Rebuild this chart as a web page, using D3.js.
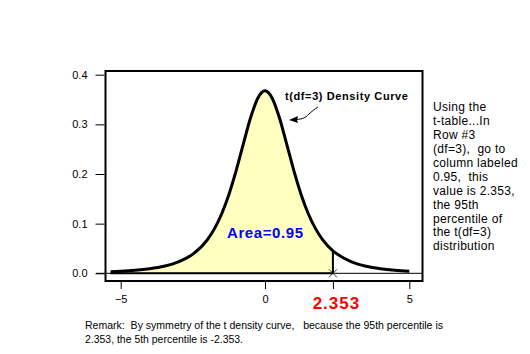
<!DOCTYPE html>
<html>
<head>
<meta charset="utf-8">
<script src="https://cdn.jsdelivr.net/npm/d3@7"></script>
<style>
  body { margin: 0; background: #fff; }
  text { font-family: "Liberation Sans", Arial, sans-serif; white-space: pre; }
  .axis path { display: none; }
  .axis line { stroke: #000; }
  .axis text { font-size: 11px; }
</style>
</head>
<body>
<svg id="chart"></svg>
<script>
// t values and t(df=3) density
const tValues = [-5.35, -5, -4.5, -4, -3.5, -3, -2.5, -2, -1.75, -1.5, -1.25, -1, -0.75, -0.5, -0.25,
  0, 0.25, 0.5, 0.75, 1, 1.25, 1.5, 1.75, 2, 2.353, 2.5, 3, 3.5, 4, 4.5, 5];
const densityValues = [0.0033, 0.0042, 0.0061, 0.0092, 0.0142, 0.0230, 0.0387, 0.0675, 0.0900, 0.1200, 0.1589, 0.2067, 0.2606, 0.3132, 0.3527,
  0.3676, 0.3527, 0.3132, 0.2606, 0.2067, 0.1589, 0.1200, 0.0900, 0.0675, 0.0454, 0.0387, 0.0230, 0.0142, 0.0092, 0.0061, 0.0042];
const xTicks = [-5, 0, 5];
const yTicks = [0, 0.1, 0.2, 0.3, 0.4];
const percentile = 2.353;
const noteLines = ["Using the", "t-table...In", "Row #3", "(df=3),  go to", "column labeled",
  "0.95,  this", "value is 2.353,", "the 95th", "percentile of", "the t(df=3)", "distribution"];
const remarkLines = ["Remark:  By symmetry of the t density curve,   because the 95th percentile is",
  "2.353, the 5th percentile is -2.353."];
const remarkWidths = [358, 158];

const data = tValues.map((t, i) => ({t: t, d: densityValues[i]}));

const svg = d3.select("#chart").attr("width", 530).attr("height", 354);

const box = {left: 105.5, top: 71, right: 422.5, bottom: 281};

const x = d3.scaleLinear().domain([-5, 5]).range([120.7, 409.3]);
const y = d3.scaleLinear().domain([0, 0.4]).range([273.3, 74.7]);

// shaded area up to the 95th percentile
const shaded = data.filter(p => p.t <= percentile);
svg.append("path")
  .datum(shaded)
  .attr("fill", "#ffffc0")
  .attr("d", d3.area().x(p => x(p.t)).y0(y(0)).y1(p => y(p.d)).curve(d3.curveMonotoneX));

// baseline at density 0
svg.append("line")
  .attr("x1", 96).attr("x2", box.right)
  .attr("y1", y(0)).attr("y2", y(0))
  .attr("stroke", "#000").attr("stroke-width", 1);
svg.append("line")
  .attr("x1", x(tValues[0])).attr("x2", x(percentile))
  .attr("y1", y(0)).attr("y2", y(0))
  .attr("stroke", "#000").attr("stroke-width", 2);

// vertical cut at 2.353
svg.append("line")
  .attr("x1", x(percentile)).attr("x2", x(percentile))
  .attr("y1", y(0)).attr("y2", y(densityValues[tValues.indexOf(percentile)]))
  .attr("stroke", "#000").attr("stroke-width", 2);

// small cross marker
const cx = x(percentile), cy = y(0);
svg.append("path")
  .attr("d", `M${cx-4},${cy-4}L${cx+4},${cy+4}M${cx-4},${cy+4}L${cx+4},${cy-4}`)
  .attr("stroke", "#000").attr("stroke-width", 0.8);

// density curve
svg.append("path")
  .datum(data)
  .attr("fill", "none")
  .attr("stroke", "#000")
  .attr("stroke-width", 3)
  .attr("d", d3.line().x(p => x(p.t)).y(p => y(p.d)).curve(d3.curveMonotoneX));

// frame
svg.append("rect")
  .attr("x", box.left).attr("y", box.top)
  .attr("width", box.right - box.left).attr("height", box.bottom - box.top)
  .attr("fill", "none").attr("stroke", "#000").attr("stroke-width", 2);

// axes
svg.append("g")
  .attr("class", "axis")
  .attr("transform", `translate(${box.left - 1},0)`)
  .call(d3.axisLeft(y).tickValues(yTicks).tickFormat(d3.format(".1f")).tickSize(9).tickPadding(8))
  .selectAll("text").style("fill", "#000");

const xAxisG = svg.append("g")
  .attr("class", "axis")
  .attr("transform", `translate(0,${box.bottom + 1})`)
  .call(d3.axisBottom(x).tickValues(xTicks.concat([percentile])).tickSize(7).tickPadding(6)
    .tickFormat(d => d === percentile ? "2.353" : d3.format("d")(d)));

xAxisG.selectAll(".tick text").style("fill", "#000");
xAxisG.selectAll(".tick")
  .filter(d => d === percentile)
  .select("text")
  .style("fill", "#ff0000")
  .attr("dx", 3)
  .attr("y", 15)
  .style("font-size", "17px")
  .style("font-weight", "bold")
  .style("letter-spacing", "1px");

// labels
svg.append("text")
  .attr("x", 285).attr("y", 100)
  .style("font-size", "11px").style("font-weight", "bold").style("letter-spacing", "0.6px")
  .text("t(df=3) Density Curve");

// arrow from the label to the curve
svg.append("path")
  .attr("d", "M296,119.5 C303,119 305,118 309,114 C312,111 315,109 318,107")
  .attr("fill", "none").attr("stroke", "#000").attr("stroke-width", 1);
svg.append("path")
  .attr("d", "M289,120 L298,116 L297,120 L298,123 Z")
  .attr("fill", "#000");

svg.append("text")
  .attr("x", 227).attr("y", 238)
  .attr("fill", "#0000ff")
  .style("font-size", "15px").style("font-weight", "bold").style("letter-spacing", "0.6px")
  .text("Area=0.95");

svg.append("g")
  .selectAll("text")
  .data(noteLines)
  .join("text")
  .attr("x", 433)
  .attr("y", (d, i) => 111 + i * 13.94)
  .style("font-size", "12px")
  .style("letter-spacing", "0.3px")
  .text(d => d);

svg.append("g")
  .selectAll("text")
  .data(remarkLines)
  .join("text")
  .attr("x", 85)
  .attr("y", (d, i) => 329 + i * 14)
  .attr("textLength", (d, i) => remarkWidths[i])
  .attr("lengthAdjust", "spacingAndGlyphs")
  .style("font-size", "11px")
  .text(d => d);
</script>
</body>
</html>
